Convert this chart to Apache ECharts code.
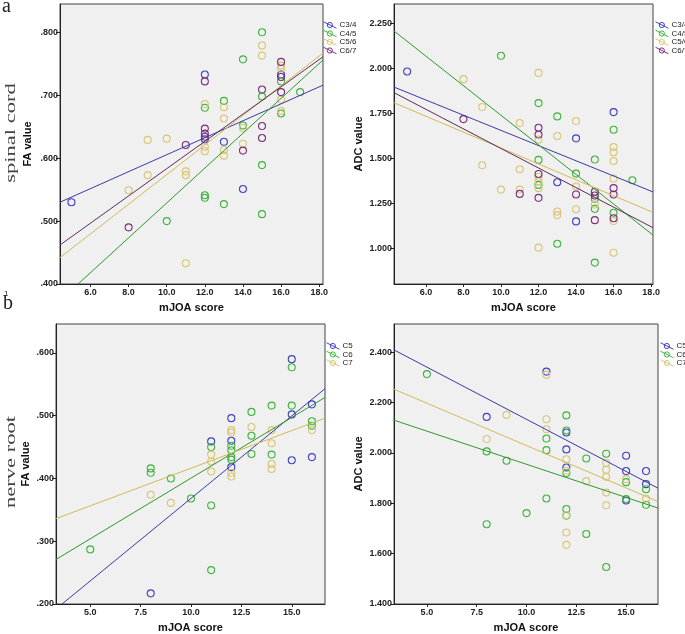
<!DOCTYPE html>
<html><head><meta charset="utf-8">
<script src="https://cdn.jsdelivr.net/npm/echarts@6/dist/echarts.min.js"></script>
<style>html,body{margin:0;padding:0;background:#fff}#c{width:685px;height:634px}</style>
</head><body><div id="c"></div>
<script>
// ---------- data ----------
const spinalGroups = ['C3/4','C4/5','C5/6','C6/7'];
const rootGroups = ['C5','C6','C7'];

// spinal cord, FA value vs mJOA
const faSpinal_C34 = [[5,0.530],[12,0.733],[12,0.630],[13,0.626],[14,0.551],[16,0.733]];
const faSpinal_C45 = [[15,0.800],[14,0.757],[16,0.722],[13,0.691],[12,0.680],[15,0.698],[16,0.671],[17,0.705],[14,0.652],[15,0.589],[12,0.541],[12,0.537],[13,0.527],[15,0.511],[10,0.500]];
const faSpinal_C56 = [[15,0.779],[15,0.763],[16,0.747],[16,0.742],[12,0.686],[13,0.681],[13,0.663],[16,0.693],[16,0.675],[14,0.648],[9,0.629],[10,0.631],[12,0.618],[12,0.611],[14,0.623],[13,0.613],[13,0.604],[11,0.579],[11,0.573],[9,0.573],[8,0.549],[11,0.433]];
const faSpinal_C67 = [[16,0.753],[16,0.729],[12,0.722],[15,0.709],[16,0.705],[12,0.647],[12,0.639],[12,0.634],[11,0.621],[15,0.651],[15,0.632],[14,0.612],[8,0.490]];
const faSpinalFit_C34 = [[4.4,0.530],[18.2,0.716]];
const faSpinalFit_C45 = [[5.35,0.400],[18.2,0.756]];
const faSpinalFit_C56 = [[4.4,0.442],[18.2,0.767]];
const faSpinalFit_C67 = [[4.4,0.462],[18.2,0.761]];

// spinal cord, ADC value vs mJOA
const adcSpinal_C34 = [[5,1.982],[16,1.756],[14,1.610],[13,1.366],[14,1.148]];
const adcSpinal_C45 = [[10,2.069],[12,1.806],[13,1.732],[16,1.658],[12,1.490],[15,1.492],[14,1.414],[12,1.351],[15,1.274],[15,1.218],[16,1.196],[13,1.024],[15,0.919],[17,1.377]];
const adcSpinal_C56 = [[12,1.974],[8,1.939],[9,1.784],[11,1.695],[14,1.706],[13,1.623],[12,1.603],[16,1.562],[16,1.533],[16,1.484],[9,1.460],[11,1.438],[12,1.396],[12,1.372],[16,1.386],[14,1.342],[10,1.325],[11,1.325],[12,1.333],[15,1.242],[13,1.203],[13,1.183],[14,1.216],[16,1.150],[12,1.002],[16,0.974]];
const adcSpinal_C67 = [[8,1.717],[12,1.669],[12,1.631],[12,1.412],[11,1.301],[12,1.279],[14,1.298],[15,1.313],[15,1.292],[16,1.333],[16,1.298],[15,1.155],[16,1.166]];
const adcSpinalFit_C34 = [[4.3,1.895],[18.1,1.312]];
const adcSpinalFit_C45 = [[4.3,2.207],[18.1,1.072]];
const adcSpinalFit_C56 = [[4.3,1.808],[18.1,1.198]];
const adcSpinalFit_C67 = [[4.3,1.864],[18.1,1.113]];

// nerve root, FA value vs mJOA
const faRoot_C5 = [[15,0.590],[16,0.518],[15,0.502],[12,0.496],[11,0.459],[12,0.460],[12,0.418],[15,0.429],[16,0.434],[8,0.217]];
const faRoot_C6 = [[15,0.577],[14,0.516],[15,0.516],[13,0.506],[16,0.491],[16,0.484],[13,0.468],[12,0.452],[11,0.450],[12,0.445],[12,0.434],[12,0.430],[13,0.439],[14,0.438],[8,0.416],[8,0.409],[9,0.400],[10,0.368],[11,0.357],[5,0.287],[11,0.254]];
const faRoot_C7 = [[12,0.477],[12,0.473],[13,0.482],[14,0.477],[11,0.438],[11,0.427],[16,0.477],[14,0.456],[14,0.423],[14,0.415],[12,0.409],[12,0.403],[11,0.411],[8,0.374],[9,0.361]];
const faRootFit_C5 = [[3.6,0.200],[16.65,0.543]];
const faRootFit_C6 = [[3.3,0.271],[16.65,0.529]];
const faRootFit_C7 = [[3.3,0.336],[16.65,0.496]];

// nerve root, ADC value vs mJOA
const adcRoot_C5 = [[11,2.323],[8,2.143],[12,2.081],[12,2.014],[15,1.989],[12,1.942],[15,1.928],[16,1.928],[16,1.876],[15,1.811]];
const adcRoot_C6 = [[5,2.313],[12,2.149],[12,2.089],[11,2.057],[11,2.011],[14,1.997],[8,2.006],[9,1.969],[13,1.978],[12,1.920],[15,1.884],[16,1.856],[15,1.817],[16,1.794],[11,1.819],[12,1.777],[10,1.761],[12,1.751],[8,1.717],[13,1.678],[14,1.547]];
const adcRoot_C7 = [[11,2.310],[9,2.151],[11,2.134],[11,2.094],[8,2.055],[12,1.975],[14,1.960],[14,1.933],[12,1.929],[14,1.905],[13,1.888],[15,1.896],[14,1.843],[16,1.818],[14,1.792],[12,1.753],[12,1.684],[12,1.635]];
const adcRootFit_C5 = [[3.35,2.409],[16.6,1.860]];
const adcRootFit_C6 = [[3.35,2.130],[16.6,1.781]];
const adcRootFit_C7 = [[3.35,2.253],[16.6,1.807]];

// tick labels
const xTicksSpinal = [6,8,10,12,14,16,18];
const xTicksRoot = [5,7.5,10,12.5,15];
const yTicksFaSpinal = [0.4,0.5,0.6,0.7,0.8];
const yTicksAdcSpinal = [1.0,1.25,1.5,1.75,2.0,2.25];
const yTicksFaRoot = [0.2,0.3,0.4,0.5,0.6];
const yTicksAdcRoot = [1.4,1.6,1.8,2.0,2.2,2.4];

// ---------- styling ----------
const markerColors = ['#4141c4','#3db53d','#d9c675','#7d2f7d'];
const lineColors   = ['#3a3aa6','#2b9a2b','#d2ba55','#5b2c5b'];
const rootMarker = markerColors.slice(0,3);
const rootLine = lineColors.slice(0,3);
const FONT = '"Liberation Sans", Arial, sans-serif';

const panels = [
  {grid:{left:60,top:4,width:263,height:280}, x:[4.4,18.2], y:[0.4,0.845], xt:xTicksSpinal, yt:yTicksFaSpinal, xd:1, yname:'FA value', yfmt:v=>v.toFixed(3).replace(/^0/,''), ygap:27,
   groups:spinalGroups, pts:[faSpinal_C34,faSpinal_C45,faSpinal_C56,faSpinal_C67], fits:[faSpinalFit_C34,faSpinalFit_C45,faSpinalFit_C56,faSpinalFit_C67], mc:markerColors, lc:lineColors, legend:{left:323,top:21}},
  {grid:{left:394,top:4,width:259,height:280}, x:[4.3,18.1], y:[0.8,2.357], xt:xTicksSpinal, yt:yTicksAdcSpinal, xd:1, yname:'ADC value', yfmt:v=>v.toFixed(3), ygap:30,
   groups:spinalGroups, pts:[adcSpinal_C34,adcSpinal_C45,adcSpinal_C56,adcSpinal_C67], fits:[adcSpinalFit_C34,adcSpinalFit_C45,adcSpinalFit_C56,adcSpinalFit_C67], mc:markerColors, lc:lineColors, legend:{left:655,top:21}},
  {grid:{left:56,top:324,width:269,height:280}, x:[3.3,16.65], y:[0.2,0.646], xt:xTicksRoot, yt:yTicksFaRoot, xd:1, yname:'FA value', yfmt:v=>v.toFixed(3).replace(/^0/,''), ygap:25,
   groups:rootGroups, pts:[faRoot_C5,faRoot_C6,faRoot_C7], fits:[faRootFit_C5,faRootFit_C6,faRootFit_C7], mc:rootMarker, lc:rootLine, legend:{left:326,top:342}},
  {grid:{left:394,top:324,width:264,height:280}, x:[3.35,16.6], y:[1.4,2.512], xt:xTicksRoot, yt:yTicksAdcRoot, xd:1, yname:'ADC value', yfmt:v=>v.toFixed(3), ygap:30,
   groups:rootGroups, pts:[adcRoot_C5,adcRoot_C6,adcRoot_C7], fits:[adcRootFit_C5,adcRootFit_C6,adcRootFit_C7], mc:rootMarker, lc:rootLine, legend:{left:660,top:342}}
];

const legendIcon = 'path://M0,1 L16,9 M11,5 A3.2,3.2 0 1 1 4.6,5 A3.2,3.2 0 1 1 11,5';
const SERIF = '15px "Liberation Serif", "DejaVu Serif", serif';

const option = {
  animation:false,
  backgroundColor:'#ffffff',
  grid:[], xAxis:[], yAxis:[], series:[], legend:[],
  graphic:[
    {type:'text', left:2, top:-3, style:{text:'a', font:'20px "Liberation Serif", serif', fill:'#222'}},
    {type:'text', left:3, top:294, style:{text:'b', font:'20px "Liberation Serif", serif', fill:'#222'}},
    {type:'text', left:4, top:290, style:{text:'1', font:'8px '+FONT, fill:'#222'}},
    {type:'text', x:11, y:133, rotation:Math.PI/2, scaleX:1.5, style:{text:'spinal cord', font:SERIF, fill:'#444', align:'center', verticalAlign:'middle'}},
    {type:'text', x:11, y:462, rotation:Math.PI/2, scaleX:1.5, style:{text:'nerve root', font:SERIF, fill:'#444', align:'center', verticalAlign:'middle'}}
  ]
};

panels.forEach((p,i)=>{
  option.grid.push(Object.assign({show:true, backgroundColor:'#f0f0f0', borderColor:'#444', borderWidth:1}, p.grid));
  option.xAxis.push({
    type:'value', gridIndex:i, min:p.x[0], max:p.x[1],
    name:'mJOA score', nameLocation:'middle', nameGap:18,
    nameTextStyle:{fontFamily:FONT, fontWeight:'bold', fontSize:11, color:'#111'},
    axisLine:{show:true, onZero:false, lineStyle:{color:'#222', width:1}},
    axisTick:{show:true, length:3, customValues:p.xt, lineStyle:{color:'#222'}},
    axisLabel:{customValues:p.xt, fontFamily:FONT, fontWeight:'bold', fontSize:9, color:'#222', margin:4, formatter:v=>v.toFixed(p.xd)},
    splitLine:{show:false}
  });
  option.yAxis.push({
    type:'value', gridIndex:i, min:p.y[0], max:p.y[1],
    name:p.yname, nameLocation:'middle', nameGap:p.ygap,
    nameTextStyle:{fontFamily:FONT, fontWeight:'bold', fontSize:11, color:'#111'},
    axisLine:{show:true, onZero:false, lineStyle:{color:'#222', width:1}},
    axisTick:{show:true, length:4, customValues:p.yt, lineStyle:{color:'#222'}},
    axisLabel:{customValues:p.yt, fontFamily:FONT, fontWeight:'bold', fontSize:9, color:'#222', margin:2, formatter:p.yfmt},
    splitLine:{show:false}
  });
  p.groups.forEach((g,j)=>{
    option.series.push({
      type:'scatter', name:g, xAxisIndex:i, yAxisIndex:i, data:p.pts[j],
      symbol:'circle', symbolSize:7,
      itemStyle:{color:'transparent', borderColor:p.mc[j], borderWidth:1.1, opacity:1},
      emphasis:{disabled:true}
    });
  });
  p.groups.forEach((g,j)=>{
    option.series.push({
      type:'line', name:g, xAxisIndex:i, yAxisIndex:i, data:p.fits[j],
      showSymbol:false, symbol:'none', clip:true, silent:true,
      lineStyle:{color:p.lc[j], width:1},
      itemStyle:{color:'transparent', borderColor:p.mc[j]},
      legendHoverLink:false
    });
  });
  option.legend.push({
    left:p.legend.left, top:p.legend.top, orient:'vertical',
    itemWidth:13, itemHeight:8, itemGap:0.5, padding:0,
    icon:legendIcon,
    data:p.groups.map((g,j)=>({name:g, itemStyle:{color:'transparent', borderColor:p.mc[j], borderWidth:1}})),
    textStyle:{fontFamily:FONT, fontSize:8, color:'#222', padding:[0,0,0,-2], lineHeight:8},
    selectedMode:false
  });
});

const chart = echarts.init(document.getElementById('c'), null, {renderer:'canvas'});
chart.setOption(option);
</script>
</body></html>
